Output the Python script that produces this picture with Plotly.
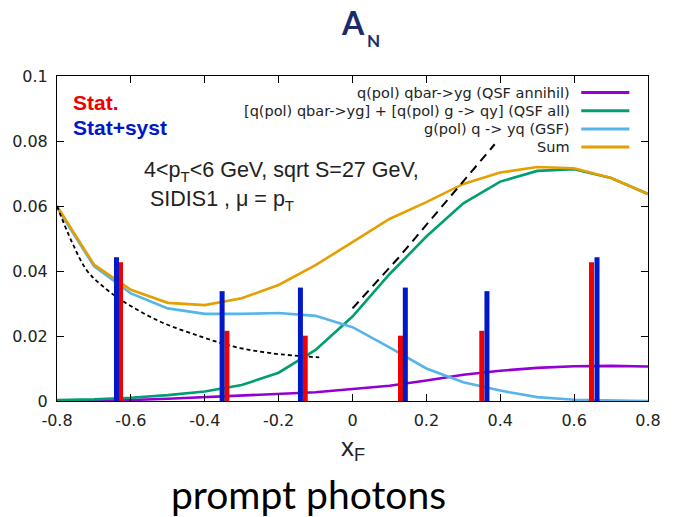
import plotly.graph_objects as go

# ---------------- data ----------------
xf = [-0.8, -0.7, -0.6, -0.5, -0.4, -0.3, -0.2, -0.1, 0.0,
      0.1, 0.2, 0.3, 0.4, 0.5, 0.6, 0.7, 0.8]

qsf_annihil = [0.0000, 0.0001, 0.0003, 0.0007, 0.0012, 0.0016, 0.0021, 0.0027, 0.0037,
               0.0047, 0.0063, 0.0081, 0.0093, 0.0102, 0.0107, 0.0108, 0.0106]
qsf_all = [0.0003, 0.0005, 0.0010, 0.0018, 0.0029, 0.0049, 0.0087, 0.0157, 0.0260,
           0.0390, 0.0506, 0.0608, 0.0675, 0.0708, 0.0713, 0.0686, 0.0637]
gsf = [0.0595, 0.0415, 0.0331, 0.0285, 0.0268, 0.0268, 0.0271, 0.0262, 0.0227,
       0.0165, 0.0100, 0.0058, 0.0032, 0.0012, 0.0004, 0.0001, 0.0000]
sum_all = [0.0600, 0.0420, 0.0342, 0.0302, 0.0295, 0.0316, 0.0357, 0.0418, 0.0489,
           0.0560, 0.0612, 0.0668, 0.0703, 0.0720, 0.0716, 0.0686, 0.0637]

dash1_x = [-0.80, -0.76, -0.72, -0.68, -0.62, -0.52, -0.41, -0.32, -0.22, -0.09]
dash1_y = [0.0600, 0.0490, 0.0403, 0.0357, 0.0306, 0.0244, 0.0198, 0.0167, 0.0147, 0.0134]
dash2_x = [0.00, 0.124, 0.385]
dash2_y = [0.0285, 0.0440, 0.0790]

stat_x = [-0.628, -0.340, -0.128, 0.130, 0.350, 0.647]
stat_err = [0.0427, 0.0216, 0.0201, 0.0201, 0.0216, 0.0427]
syst_x = [-0.639, -0.353, -0.141, 0.143, 0.364, 0.662]
syst_err = [0.0442, 0.0338, 0.0349, 0.0349, 0.0338, 0.0442]

legend_labels = ["q(pol) qbar->yg (QSF annihil)",
                 "[q(pol) qbar->yg] + [q(pol) g -> qy] (QSF all)",
                 "g(pol) q -> yq (GSF)",
                 "Sum"]
colors = ["#9400d3", "#009e73", "#56b4e9", "#e69f00"]

x_ticks = [-0.8, -0.6, -0.4, -0.2, 0.0, 0.2, 0.4, 0.6, 0.8]
x_ticktext = ["-0.8", "-0.6", "-0.4", "-0.2", "0", "0.2", "0.4", "0.6", "0.8"]
y_ticks = [0, 0.02, 0.04, 0.06, 0.08, 0.1]
y_ticktext = ["0", "0.02", "0.04", "0.06", "0.08", "0.1"]

# ---------------- figure ----------------
fig = go.Figure()

for ys, col in zip([qsf_annihil, qsf_all, gsf, sum_all], colors):
    fig.add_trace(go.Scatter(x=xf, y=ys, mode="lines",
                             line=dict(color=col, width=2.6), hoverinfo="skip"))

fig.add_trace(go.Scatter(x=dash1_x, y=dash1_y, mode="lines", line_shape="spline",
                         line=dict(color="black", width=1.8, dash="4px,3px")))
fig.add_trace(go.Scatter(x=dash2_x, y=dash2_y, mode="lines",
                         line=dict(color="black", width=2, dash="9px,6px")))


def segments(xs, ys):
    X, Y = [], []
    for x, y in zip(xs, ys):
        X += [x, x, None]
        Y += [0, y, None]
    return X, Y


sx, sy = segments(stat_x, stat_err)
bx, by = segments(syst_x, syst_err)
fig.add_trace(go.Scatter(x=sx, y=sy, mode="lines", line=dict(color="#f00000", width=5)))
fig.add_trace(go.Scatter(x=bx, y=by, mode="lines", line=dict(color="#0018c8", width=5)))

# pixel helpers for paper coords (plot area: x 54..656, y 76..401)
def px(p):
    return (p - 54) / 602.0


def py(p):
    return (401 - p) / 325.0


annotations = []
leg_y = [92.5, 110.7, 129, 147]
shapes = []
for lab, col, yy in zip(legend_labels, colors, leg_y):
    annotations.append(dict(x=px(579), y=py(yy), xref="paper", yref="paper",
                            text=lab, showarrow=False, xanchor="right", yanchor="middle",
                            font=dict(family="DejaVu Sans", size=14.5, color="#222")))
    shapes.append(dict(type="line", xref="paper", yref="paper",
                       x0=px(588), x1=px(637), y0=py(yy), y1=py(yy),
                       line=dict(color=col, width=3)))

annotations += [
    dict(x=px(68), y=py(103), xref="paper", yref="paper", text="<b>Stat.</b>",
         showarrow=False, xanchor="left", yanchor="middle",
         font=dict(family="Liberation Sans", size=21, color="#f00000")),
    dict(x=px(68), y=py(127), xref="paper", yref="paper", text="<b>Stat+syst</b>",
         showarrow=False, xanchor="left", yanchor="middle",
         font=dict(family="Liberation Sans", size=21, color="#0018c8")),
    dict(x=px(142), y=py(186), xref="paper", yref="paper",
         text="4<p<sub>T</sub><6 GeV, sqrt S=27 GeV,",
         showarrow=False, xanchor="left", yanchor="bottom", borderpad=0,
         font=dict(family="Liberation Sans", size=21.5, color="#222")),
    dict(x=px(142), y=py(186), xref="paper", yref="paper",
         text=" SIDIS1 , μ = p<sub>T</sub>",
         showarrow=False, xanchor="left", yanchor="top", borderpad=0,
         font=dict(family="Liberation Sans", size=21.5, color="#222")),
    dict(x=px(355), y=py(22), xref="paper", yref="paper", text="<b>A</b>",
         showarrow=False, xanchor="center", yanchor="middle",
         font=dict(family="Lato", size=32, color="#1b2a6b")),
    dict(x=px(376.5), y=py(41), xref="paper", yref="paper", text="<b>N</b>",
         showarrow=False, xanchor="center", yanchor="middle",
         font=dict(family="Lato", size=17, color="#1b2a6b")),
    dict(x=px(356), y=py(448), xref="paper", yref="paper", text="x<sub>F</sub>",
         showarrow=False, xanchor="center", yanchor="middle",
         font=dict(family="Liberation Sans", size=26, color="#222")),
    dict(x=px(310), y=py(494), xref="paper", yref="paper", text="prompt photons",
         showarrow=False, xanchor="center", yanchor="middle",
         font=dict(family="Lato", size=39, color="black")),
]

axis_common = dict(showline=True, linecolor="black", linewidth=1, mirror="ticks",
                   ticks="inside", ticklen=7, tickcolor="black", showgrid=False,
                   zeroline=False, ticklabelstandoff=5,
                   tickfont=dict(family="DejaVu Sans", size=16, color="#222"))

fig.update_layout(
    width=673, height=517,
    margin=dict(l=54, r=17, t=76, b=116),
    paper_bgcolor="white", plot_bgcolor="white",
    showlegend=False,
    annotations=annotations, shapes=shapes,
    xaxis=dict(range=[-0.8, 0.8], tickvals=x_ticks, ticktext=x_ticktext, **axis_common),
    yaxis=dict(range=[0, 0.1], tickvals=y_ticks, ticktext=y_ticktext, **axis_common),
)

fig.write_html("out.html")
